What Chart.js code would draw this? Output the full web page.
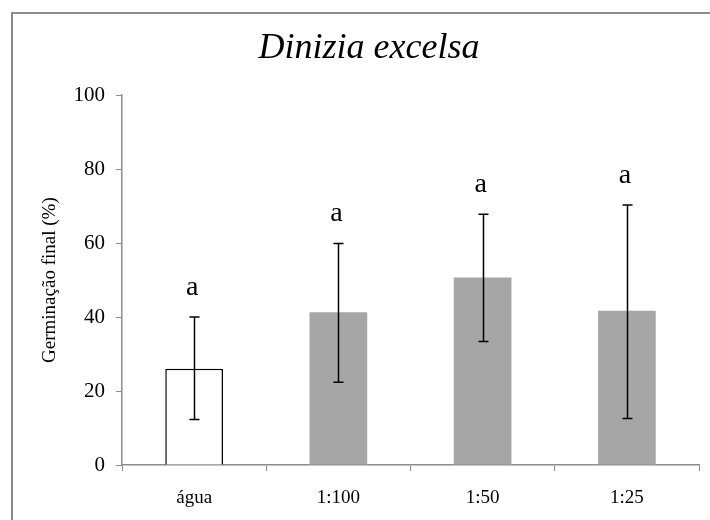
<!DOCTYPE html>
<html>
<head>
<meta charset="utf-8">
<script src="https://cdn.jsdelivr.net/npm/chart.js@4/dist/chart.umd.min.js"></script>
<style>
html,body{margin:0;padding:0;background:#fff;}
#wrap{width:710px;height:520px;position:relative;}
</style>
</head>
<body>
<div id="wrap"><canvas id="c" width="710" height="520"></canvas></div>
<script>
const categories = ["água", "1:100", "1:50", "1:25"];
const germination = [26.0, 41.3, 50.7, 41.7];
const errLow = [12.3, 22.4, 33.4, 12.6];
const errHigh = [40.0, 59.9, 67.8, 70.3];
const letters = ["a", "a", "a", "a"];
const yTicks = [0, 20, 40, 60, 80, 100];

const SERIF = '"Liberation Serif", "Times New Roman", serif';

const frame = {
  id: 'frame',
  beforeDraw(chart) {
    const ctx = chart.ctx;
    ctx.save();
    ctx.fillStyle = '#fff';
    ctx.fillRect(0, 0, chart.width, chart.height);
    ctx.strokeStyle = '#8c8c8c';
    ctx.lineWidth = 2;
    ctx.strokeRect(12, 13, 900, 900);
    ctx.restore();
  }
};

const errorBars = {
  id: 'errorBars',
  afterDatasetsDraw(chart) {
    const ctx = chart.ctx;
    const meta = chart.getDatasetMeta(0);
    const y = chart.scales.y;
    ctx.save();
    ctx.strokeStyle = '#000';
    ctx.lineWidth = 1.5;
    meta.data.forEach((bar, i) => {
      const x = Math.round(bar.x) + 0.5;
      const yh = y.getPixelForValue(errHigh[i]);
      const yl = y.getPixelForValue(errLow[i]);
      ctx.beginPath();
      ctx.moveTo(x, yh); ctx.lineTo(x, yl);
      ctx.moveTo(x - 5, yh); ctx.lineTo(x + 5, yh);
      ctx.moveTo(x - 5, yl); ctx.lineTo(x + 5, yl);
      ctx.stroke();
      ctx.fillStyle = '#000';
      ctx.font = '28px ' + SERIF;
      ctx.textAlign = 'center';
      ctx.textBaseline = 'alphabetic';
      ctx.fillText(letters[i], bar.x - 2, yh - 22);
    });
    ctx.restore();
  }
};

new Chart(document.getElementById('c'), {
  type: 'bar',
  data: {
    labels: categories,
    datasets: [{
      data: germination,
      backgroundColor: ['#ffffff', '#a6a6a6', '#a6a6a6', '#a6a6a6'],
      borderColor: ['#000000', '#a6a6a6', '#a6a6a6', '#a6a6a6'],
      borderWidth: [1.5, 0, 0, 0],
      borderSkipped: 'bottom',
      barPercentage: 0.8,
      categoryPercentage: 0.5
    }]
  },
  options: {
    responsive: false,
    animation: false,
    devicePixelRatio: 1,
    layout: { padding: { left: 39, right: 11, top: 0, bottom: 0 } },
    plugins: {
      legend: { display: false },
      tooltip: { enabled: false },
      title: {
        display: true,
        text: 'Dinizia excelsa',
        color: '#000',
        font: { family: SERIF, size: 36, style: 'italic', weight: 'normal' },
        padding: { top: 27, bottom: 25 }
      }
    },
    scales: {
      x: {
        offset: true,
        grid: { display: true, drawOnChartArea: false, drawTicks: true, tickLength: 6, color: '#8c8c8c', offset: true },
        border: { display: true, color: '#8c8c8c', width: 1.5 },
        ticks: { color: '#000', font: { family: SERIF, size: 19 }, padding: 16 },
        afterFit(s) { s.height = 55; }
      },
      y: {
        min: 0, max: 100,
        afterBuildTicks(s) { s.ticks = yTicks.map(v => ({ value: v })); },
        grid: { display: true, drawOnChartArea: false, drawTicks: true, tickLength: 6, color: '#8c8c8c' },
        border: { display: true, color: '#8c8c8c', width: 1.5 },
        ticks: { color: '#000', font: { family: SERIF, size: 21 }, padding: 11 },
        title: { display: true, text: 'Germinação final (%)', color: '#000', font: { family: SERIF, size: 19 }, padding: { top: 0, bottom: 0 } },
        afterFit(s) { s.width = 122 - 39; }
      }
    }
  },
  plugins: [frame, errorBars]
});
</script>
</body>
</html>
